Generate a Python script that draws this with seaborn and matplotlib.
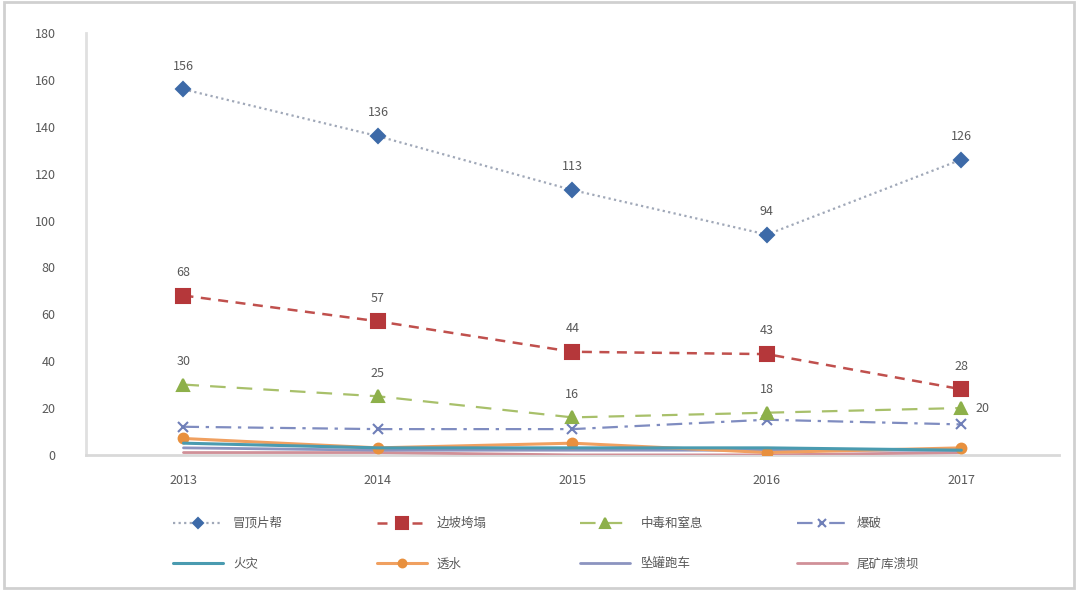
import matplotlib
matplotlib.use("Agg")
import matplotlib.pyplot as plt
import seaborn as sns
import numpy as np
import pandas as pd
from matplotlib.patches import Rectangle

years = ["2013", "2014", "2015", "2016", "2017"]
series_names = ["冒顶片帮", "边坡垮塌", "中毒和窒息", "爆破", "火灾", "透水", "坠罐跑车", "尾矿库溃坝"]
v_maoding = [156, 136, 113, 94, 126]
v_bianpo = [68, 57, 44, 43, 28]
v_zhongdu = [30, 25, 16, 18, 20]
v_baopo = [12, 11, 11, 15, 13]
v_huozai = [5, 3, 3, 3, 2]
v_toushui = [7, 3, 5, 1, 3]
v_zhuiguan = [3, 2, 2, 2, 2]
v_weikuang = [1, 1, 0, 0, 1]
y_ticks = [0, 20, 40, 60, 80, 100, 120, 140, 160, 180]

values = [v_maoding, v_bianpo, v_zhongdu, v_baopo, v_huozai, v_toushui, v_zhuiguan, v_weikuang]
labelled = {0, 1, 2}

styles = [
    dict(color="#3D6AA8", ls=(0, (1, 1.5)), lc="#A0A8B8", marker="D", ms=7, lw=1.6),
    dict(color="#B5373A", ls=(0, (4, 3)), lc="#C0504D", marker="s", ms=10, lw=1.8),
    dict(color="#8DB04A", ls=(0, (7, 5)), lc="#A8C06A", marker="^", ms=9, lw=1.6),
    dict(color="#6F7FB8", ls=(0, (7, 3, 1.5, 3)), lc="#7F8CC0", marker="x", ms=7, lw=1.6),
    dict(color="#4A9BB0", ls="-", lc="#4A9BB0", marker=None, ms=0, lw=2.2),
    dict(color="#E8903E", ls="-", lc="#F0A060", marker="o", ms=7, lw=2.2),
    dict(color="#7E88B8", ls="-", lc="#8C94C0", marker=None, ms=0, lw=2.0),
    dict(color="#C98088", ls="-", lc="#D09098", marker=None, ms=0, lw=2.0),
]

sns.set_theme(style="white")
plt.rcParams["font.family"] = ["Noto Sans CJK SC", "DejaVu Sans"]

fig = plt.figure(figsize=(10.78, 5.90), dpi=100)
ax = fig.add_axes([0.080, 0.229, 0.902, 0.715])

x = np.arange(len(years))
handles = []
for i, (name, vals) in enumerate(zip(series_names, values)):
    st = styles[i]
    df = pd.DataFrame({"x": x, "y": vals})
    sns.lineplot(data=df, x="x", y="y", ax=ax, color=st["lc"], linestyle=st["ls"],
                 linewidth=st["lw"], marker=st["marker"], markersize=st["ms"],
                 markerfacecolor=st["color"], markeredgecolor=st["color"],
                 markeredgewidth=1.5, zorder=3 + (8 - i) * 0.1)
    handles.append(ax.lines[-1])
    if i in labelled:
        for xi, v in zip(x, vals):
            if i == 2 and xi == 4:
                ax.annotate(str(v), (xi, v), xytext=(10, 0), textcoords="offset points",
                            ha="left", va="center", fontsize=9, color="#595959")
            else:
                ax.annotate(str(v), (xi, v), xytext=(0, 12), textcoords="offset points",
                            ha="center", va="bottom", fontsize=9, color="#595959")

ax.set_xlim(-0.5, 4.5)
ax.set_ylim(0, 180)
ax.set_yticks(y_ticks)
ax.set_yticklabels([str(t) for t in y_ticks], fontsize=9, color="#595959")
ax.set_xticks(x)
ax.set_xticklabels(years, fontsize=9, color="#595959")
ax.tick_params(axis="x", pad=14, length=0)
ax.tick_params(axis="y", pad=22, length=0)
ax.set_xlabel("")
ax.set_ylabel("")
for s in ["top", "right"]:
    ax.spines[s].set_visible(False)
ax.spines["left"].set_color("#E0E0E0")
ax.spines["left"].set_linewidth(2)
ax.spines["bottom"].set_color("#D9D9D9")
ax.spines["bottom"].set_linewidth(2)
ax.grid(False)

# legend filled row by row (matplotlib fills columns first)
order = [0, 4, 1, 5, 2, 6, 3, 7]
fig.legend(handles=[handles[k] for k in order], labels=[series_names[k] for k in order],
           loc="upper left", bbox_to_anchor=(0.15, 0.143), ncol=4, frameon=False, fontsize=9,
           handlelength=4, columnspacing=7.5, labelspacing=2.2, labelcolor="#595959",
           markerscale=0.8)

fig.patches.append(Rectangle((0.004, 0.004), 0.992, 0.992, transform=fig.transFigure,
                             fill=False, edgecolor="#D0D0D0", linewidth=2))

fig.savefig("out.png", dpi=100)
